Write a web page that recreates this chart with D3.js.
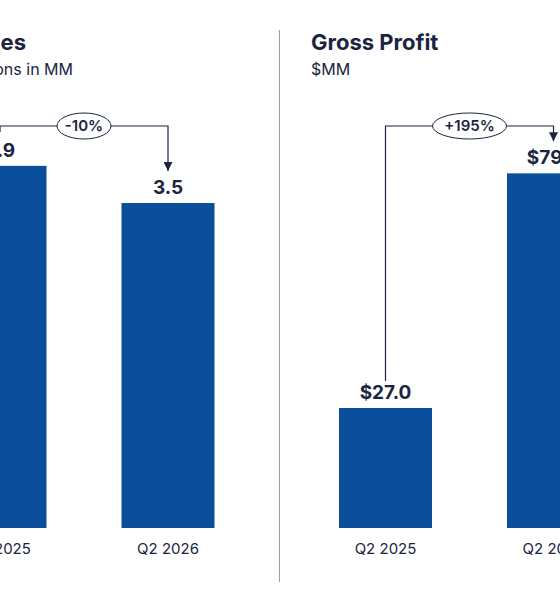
<!DOCTYPE html>
<html><head><meta charset="utf-8">
<script src="https://cdn.jsdelivr.net/npm/d3@7"></script>
<style>body{margin:0;background:#fff}svg{display:block;font-family:Inter,"Noto Sans",sans-serif}</style>
</head><body>
<script>
const categories = ['Q2 2025', 'Q2 2026']
const volumeValues = [3.9, 3.5]
const volumeLabels = ['3.9', '3.5']
const profitValues = [27.0, 79.8]
const profitLabels = ['$27.0', '$79.8']
const volumeChange = '-10%'
const profitChange = '+195%'

const navy = '#1b2541', blue = '#0b4f9c'
const svg = d3.select('body').append('svg').attr('width', 560).attr('height', 600)
const base = 528

svg.append('line').attr('x1', 279.5).attr('x2', 279.5).attr('y1', 30).attr('y2', 582)
    .attr('stroke', '#9aa0ab').attr('stroke-width', 1)

svg.append('defs').append('marker').attr('id', 'arr').attr('viewBox', '0 0 10 10')
    .attr('refX', 5).attr('refY', 10).attr('markerWidth', 9).attr('markerHeight', 9)
    .attr('orient', '0').attr('markerUnits', 'userSpaceOnUse')
    .append('path').attr('d', 'M0,0L10,0L5,10Z').attr('fill', navy)

function panel(o) {
    const g = svg.append('g')
    const x = d3.scalePoint().domain(categories).range([o.x0, o.x0 + 168])
    const y = d3.scaleLinear().domain([0, o.max]).range([base, base - o.maxPx])
    g.append('text').attr('x', o.tx).attr('y', 50).attr('text-anchor', o.anchor)
        .attr('font-size', 22).attr('font-weight', 700).attr('fill', navy).text(o.title)
    g.append('text').attr('x', o.sx).attr('y', 75).attr('text-anchor', o.anchor)
        .attr('font-size', 16).attr('fill', navy).text(o.sub)
    g.selectAll('rect').data(o.values).join('rect')
        .attr('x', (d, i) => x(categories[i]) - 46.5).attr('width', 93)
        .attr('y', d => y(d)).attr('height', d => base - y(d)).attr('fill', blue)
    g.selectAll('.v').data(o.values).join('text')
        .attr('x', (d, i) => x(categories[i])).attr('y', d => y(d) - 9)
        .attr('text-anchor', 'middle').attr('font-size', 19).attr('font-weight', 700)
        .attr('fill', navy).text((d, i) => o.labels[i])
    g.selectAll('.c').data(categories).join('text')
        .attr('x', d => x(d)).attr('y', 554).attr('text-anchor', 'middle')
        .attr('font-size', 15).attr('fill', navy).text(d => d)
    const x1 = x(categories[0]), x2 = x(categories[1])
    const ly = 126
    g.append('path').attr('fill', 'none').attr('stroke', navy).attr('stroke-width', 1.2)
        .attr('d', `M${x1},${o.startEnd}V${ly}H${x2}V${y(o.values[1]) - 32}`)
        .attr('marker-end', 'url(#arr)')
    const cx = (x1 + x2) / 2
    g.append('ellipse').attr('cx', cx).attr('cy', ly).attr('rx', o.rx).attr('ry', 13)
        .attr('fill', '#fff').attr('stroke', navy).attr('stroke-width', 1)
    g.append('text').attr('x', cx).attr('y', ly + 5).attr('text-anchor', 'middle')
        .attr('font-size', 15).attr('font-weight', 600).attr('fill', navy).text(o.change)
}

panel({x0: 0, max: 3.5, maxPx: 325, values: volumeValues, labels: volumeLabels,
    title: 'Volumes', sub: 'Tons in MM', tx: 26, sx: 73, anchor: 'end', change: volumeChange,
    rx: 27, startEnd: 132})
panel({x0: 385.5, max: 27, maxPx: 120, values: profitValues, labels: profitLabels,
    title: 'Gross Profit', sub: '$MM', tx: 311, sx: 311, anchor: 'start', change: profitChange,
    rx: 37, startEnd: 381})
</script>
</body></html>
